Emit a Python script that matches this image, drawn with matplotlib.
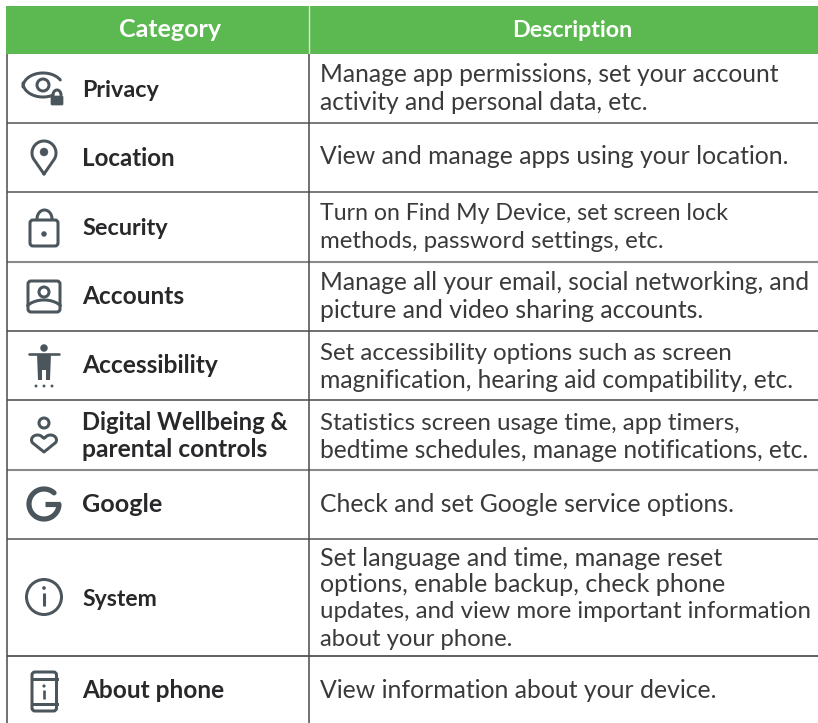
import numpy as np
import matplotlib
matplotlib.use("Agg")
import matplotlib.pyplot as plt
from matplotlib.patches import Rectangle, Circle, FancyBboxPatch, Polygon

headers = ["Category", "Description"]
categories = ["Privacy", "Location", "Security", "Accounts", "Accessibility",
              "Digital Wellbeing &", "parental controls", "Google", "System", "About phone"]
descriptions = [
    "Manage app permissions, set your account", "activity and personal data, etc.",
    "View and manage apps using your location.",
    "Turn on Find My Device, set screen lock", "methods, password settings, etc.",
    "Manage all your email, social networking, and", "picture and video sharing accounts.",
    "Set accessibility options such as screen", "magnification, hearing aid compatibility, etc.",
    "Statistics screen usage time, app timers,", "bedtime schedules, manage notifications, etc.",
    "Check and set Google service options.",
    "Set language and time, manage reset", "options, enable backup, check phone",
    "updates, and view more important information", "about your phone.",
    "View information about your device.",
]

# layout: (baseline y, right end x) of each line of text, in pixels
cat_base = [96.7, 165.7, 235, 304, 373, 430, 457, 512, 605.7, 698]
cat_end = [159, 175, 168, 184, 218, 288, 267, 162, 157, 224]
desc_base = [81.5, 109.5, 164.5, 220.5, 248.5, 290.5, 318.5, 360.5, 387.5, 429.5, 457.5,
             511.5, 565.5, 592.5, 618.5, 645.5, 697.5]
desc_end = [779, 648, 788, 728, 662, 809, 702, 732, 793, 740, 809, 733, 723, 727, 810, 513, 716]

GREEN = "#5cb951"; ICON = "#4b555c"; TXT = "#3a3a3c"; BOLD = "#28282a"
FONT = "Lato"
W, H = 818, 723
L, M, HT, HB = 6.5, 308.7, 6, 54
rules = [123, 192, 262, 331, 400, 470, 539, 656]
rule_col = ["#555555", "#555555", "#8a8a8a", "#484848", "#484848", "#8a8a8a", "#555555", "#333333"]
rule_lw = [1.1, 1.1, 1.5, 1.1, 1.1, 1.5, 1.1, 1.1]
LW = 3 * 0.72  # icon stroke

fig = plt.figure(figsize=(W / 100, H / 100), dpi=100)
ax = fig.add_axes([0, 0, 1, 1])
ax.set_xlim(0, W); ax.set_ylim(H, 0); ax.axis("off")
rend = fig.canvas.get_renderer()


def fit_text(x0, x1, base, s, size, color, weight="normal"):
    t = ax.text(x0, base, s, color=color, fontsize=size, fontfamily=FONT, fontweight=weight,
                ha="left", va="baseline")
    w = t.get_window_extent(rend).width
    t.set_fontsize(size * (x1 - x0) / w)
    return t


def stroke(xs, ys, lw=LW, color=ICON):
    ax.plot(xs, ys, color=color, lw=lw, solid_capstyle="round", solid_joinstyle="round")


def arc(cx, cy, rx, ry, a0, a1):
    t = np.radians(np.linspace(a0, a1, 80))
    return cx + rx * np.cos(t), cy - ry * np.sin(t)


def ring(cx, cy, r, lw=LW, fill=False):
    ax.add_patch(Circle((cx, cy), r, fc=ICON if fill else "none", ec=ICON, lw=lw))


def box(x0, y0, x1, y1, rad=3, fill=False, lw=LW):
    ax.add_patch(FancyBboxPatch((x0 + rad, y0 + rad), x1 - x0 - 2 * rad, y1 - y0 - 2 * rad,
                                boxstyle=f"round,pad={rad},rounding_size={rad}",
                                fc=ICON if fill else "none", ec=ICON, lw=lw))


# header
ax.add_patch(Rectangle((L - 0.5, HT), W - L, HB - HT, fc=GREEN, ec="none"))
ax.plot([M, M], [HT, HB], color="#d5ecd2", lw=1.0)
fit_text(119, 221, 37, headers[0], 18, "white", "bold")
fit_text(512, 633, 37, headers[1], 18, "white", "bold")

# grid
for y, c, lw in zip(rules, rule_col, rule_lw):
    ax.plot([L, W], [y, y], color=c, lw=lw, solid_capstyle="butt")
for x in (L, M):
    ax.plot([x, x], [HB, H], color="#4a4a4a", lw=1.1, solid_capstyle="butt")

# text
for s, b, e in zip(categories, cat_base, cat_end):
    fit_text(82, e, b, s, 17, BOLD, "bold")
for s, b, e in zip(descriptions, desc_base, desc_end):
    fit_text(320, e, b, s, 17.7, TXT)

# Privacy
stroke(*arc(43, 87, 20, 14, 30, 180))
stroke(*arc(43, 83, 20, 14, 180, 300))
ring(43, 85, 6)
stroke(*arc(57, 95, 4, 5, 0, 180))
box(51, 96, 63, 105, rad=1, fill=True, lw=0.5)
# Location
pt = arc(44, 153, 12, 12, -30, 210)
stroke(np.r_[44, pt[0], 44], np.r_[174, pt[1], 174])
ring(44, 152, 4, fill=True, lw=0.3)
# Security
stroke(*arc(44.5, 219, 7.5, 9, 0, 180))
box(30, 220, 58, 246)
ring(44, 234, 2.5, fill=True, lw=0.3)
# Accounts
box(28, 281, 60, 312)
ring(44, 292, 5)
stroke(*arc(44, 313, 20, 13, 35, 145))
# Accessibility
ring(44, 348, 3.5, fill=True, lw=0.3)
stroke([29, 59], [354, 354], lw=2.6 * 0.72)
ax.add_patch(Polygon([[37, 354], [51, 354], [50, 380], [46, 380], [46, 370], [42, 370], [42, 380], [38, 380]],
                     fc=ICON, ec="none"))
for x in (36, 44, 52):
    ring(x, 386, 1.2, fill=True, lw=0.3)
# Wellbeing
ring(44, 423, 5)
ex, ey = arc(37.5, 440, 6, 5, 30, 215)
fx, fy = arc(50.5, 440, 6, 5, -35, 150)
stroke(np.r_[44, ex, 44, fx, 44], np.r_[438, ey, 452, fy, 438])
# Google
gx, gy = arc(44, 504, 15, 15, 48, 358)
stroke(gx, gy, lw=5.2 * 0.72)
ax.plot([45, 59.5], [504, 504], color=ICON, lw=5.2 * 0.72, solid_capstyle="butt")
# System
ring(44, 597, 17.5)
ring(44, 588, 1.6, fill=True, lw=0.3)
ax.plot([44, 44], [593, 606], color=ICON, lw=2.2, solid_capstyle="butt")
# About phone
box(32, 672, 56.5, 711)
ax.plot([32, 56.5], [679, 679], color=ICON, lw=LW)
ax.plot([32, 56.5], [704, 704], color=ICON, lw=LW)
ring(44, 686, 1.3, fill=True, lw=0.3)
ax.plot([44, 44], [690, 699], color=ICON, lw=1.9, solid_capstyle="butt")

fig.savefig("out.png", dpi=100, facecolor="white")
